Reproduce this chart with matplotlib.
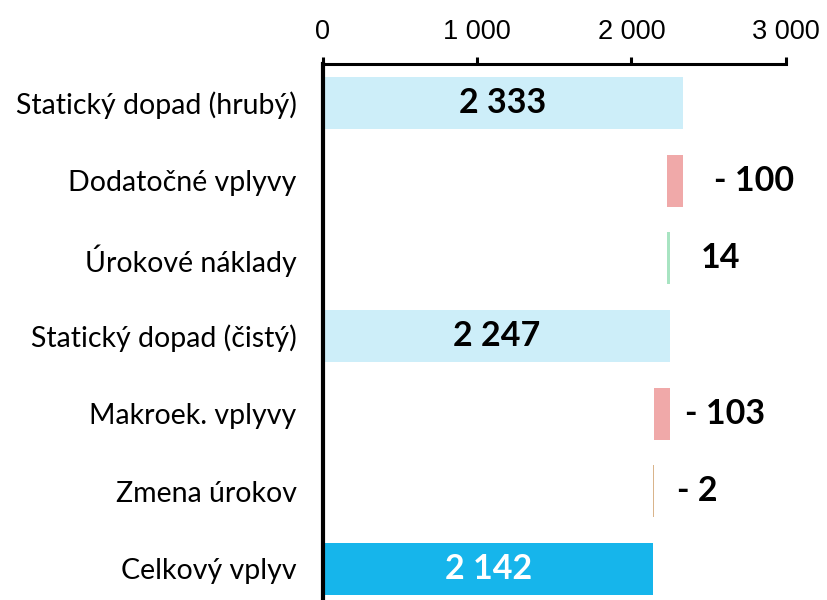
import matplotlib.pyplot as plt

# data
categories = ["Statický dopad (hrubý)", "Dodatočné vplyvy", "Úrokové náklady",
              "Statický dopad (čistý)", "Makroek. vplyvy", "Zmena úrokov", "Celkový vplyv"]
values = [2333, -100, 14, 2247, -103, -2, 2142]
labels = ["2 333", "- 100", "14", "2 247", "- 103", "- 2", "2 142"]
is_total = [True, False, False, True, False, False, True]
colors = ["#cdeef9", "#f0a9a9", "#a8e4c2", "#cdeef9", "#f0a9a9", "#d9b48b", "#16b5eb"]
ticks = [0, 1000, 2000, 3000]
tick_labels = ["0", "1 000", "2 000", "3 000"]

fig = plt.figure(figsize=(8.28, 6), dpi=100)
ax = fig.add_axes([0.390, 0.0, 0.559, 0.8933])

# waterfall: totals start at 0, changes run from the previous level
lefts = []
widths = []
level = 0
for v, t in zip(values, is_total):
    if t:
        lefts.append(0)
        widths.append(v)
        level = v
    else:
        lefts.append(min(level, level + v))
        widths.append(abs(v))
        level = level + v
ax.barh(range(len(values)), widths, left=lefts, height=0.67, color=colors)

offsets = [0, 31, 31, 0, 15, 23, 0]
for i, (lab, t) in enumerate(zip(labels, is_total)):
    if t:
        ax.text(widths[i] / 2, i, lab, ha="center", va="center", fontsize=24.5,
                fontweight="bold", family="Lato",
                color="white" if i == len(values) - 1 else "black")
    else:
        ax.annotate(lab, (lefts[i] + widths[i], i), xytext=(offsets[i] * 0.72, 0),
                    textcoords="offset points", ha="left", va="center",
                    fontsize=24.5, fontweight="bold", family="Lato")

ax.set_xlim(0, 3000)
ax.set_ylim(6.4, -0.5)
ax.xaxis.tick_top()
ax.set_xticks(ticks)
ax.set_xticklabels(tick_labels, family="Liberation Sans", fontsize=19.5)
ax.set_yticks(range(len(categories)))
ax.set_yticklabels(categories, family="Lato", fontsize=20.5)
ax.tick_params(axis="x", direction="out", length=5, width=2.2, pad=9)
ax.tick_params(axis="y", length=0, pad=19)
for s in ["right", "bottom"]:
    ax.spines[s].set_visible(False)
ax.spines["left"].set_linewidth(3)
ax.spines["top"].set_linewidth(2.2)

fig.savefig("out.png", dpi=100)
